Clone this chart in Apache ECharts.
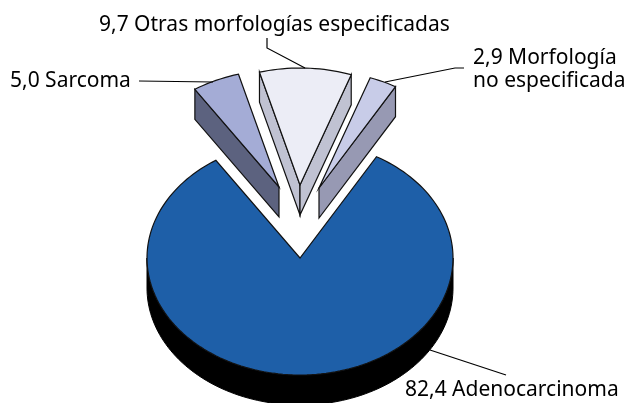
<!DOCTYPE html>
<html>
<head>
<meta charset="utf-8">
<title>Morfologías</title>
<style>
  html, body { margin: 0; padding: 0; background: #fff; }
  #main { width: 626px; height: 403px; }
</style>
<script src="https://cdn.jsdelivr.net/npm/echarts@6/dist/echarts.min.js"></script>
</head>
<body>
<div id="main"></div>
<script>
  // data
  var names = ['Adenocarcinoma', 'Sarcoma', 'Otras morfologías especificadas', 'Morfología no especificada'];
  var values = [82.4, 5.0, 9.7, 2.9];
  var valueLabels = ['82,4', '5,0', '9,7', '2,9'];

  // look of each slice
  var topColors = ['#1e5fa8', '#a4acd6', '#ecedf6', '#c8cce8'];
  var sideColors = ['#000000', '#5c627f', '#c0c2d2', '#9799b3'];
  var explodeX = [0, -21, 0, 19];
  var explodeY = [0, -71, -73, -70];
  var startCut = [false, true, true, false];
  var endCut = [false, false, true, true];

  var cx = 300, cy = 258, rx = 153, ry = 117, depth = 30;

  var rows = [];
  var running = 0;
  values.forEach(function (v) {
    rows.push([1, running, running + v]);
    running += v;
  });

  function renderSlice(params, api) {
    var i = params.dataIndex;
    var from = api.value(1), to = api.value(2);
    var dx = explodeX[i], dy = explodeY[i];

    // polar gives a circle, flatten it to the tilted ellipse
    function pt(r, val, down) {
      var p = api.coord([r, val]);
      return [p[0] + dx, cy + (p[1] - cy) * ry / rx + dy + (down || 0)];
    }
    function arc(a, b) {
      var out = [], n = Math.max(2, Math.ceil(Math.abs(b - a) * 2));
      for (var k = 0; k <= n; k++) out.push(pt(1, a + (b - a) * k / n));
      return out;
    }
    function side(val) {
      return {
        type: 'polygon',
        shape: { points: [pt(1, val), pt(0, val), pt(0, val, depth), pt(1, val, depth)] },
        style: { fill: sideColors[i], stroke: '#111', lineWidth: 1.2 }
      };
    }

    var kids = [];
    if (i === 0) {
      // front wall of the big slice, right edge of the ellipse round to the left edge
      var rightEnd = 100 * 60 / 360;
      var leftEnd = rightEnd + 50;
      var front = arc(rightEnd, leftEnd);
      var wall = front.concat(front.slice().reverse().map(function (p) {
        return [p[0], p[1] + depth];
      }));
      kids.push({ type: 'polygon', shape: { points: wall }, style: { fill: '#000', stroke: '#000', lineWidth: 1 } });
    }
    if (startCut[i]) kids.push(side(from));
    if (endCut[i]) kids.push(side(to));
    kids.push({
      type: 'polygon',
      shape: { points: arc(from, to).concat([pt(0, from)]) },
      style: { fill: topColors[i], stroke: '#111', lineWidth: 1.2 }
    });
    return { type: 'group', children: kids };
  }

  var labelFont = '21px "Noto Sans", sans-serif';
  function label(text, x, y) {
    return { type: 'text', x: x, y: y, silent: true, z: 5,
      style: { text: text, font: labelFont, fill: '#000', textVerticalAlign: 'middle' } };
  }
  function leader(points) {
    return { type: 'polyline', silent: true, z: 4,
      shape: { points: points }, style: { fill: null, stroke: '#000', lineWidth: 1.2 } };
  }

  var chart = echarts.init(document.getElementById('main'), null, { renderer: 'canvas' });
  chart.setOption({
    animation: false,
    backgroundColor: '#fff',
    polar: { center: [cx, cy], radius: rx },
    angleAxis: { type: 'value', min: 0, max: 100, startAngle: 60, clockwise: true, show: false },
    radiusAxis: { type: 'value', min: 0, max: 1, show: false },
    series: [{
      type: 'custom',
      coordinateSystem: 'polar',
      clip: false,
      silent: true,
      encode: { radius: 0, angle: 1 },
      renderItem: renderSlice,
      data: rows
    }],
    graphic: [
      leader([[139, 81], [213, 82]]),
      leader([[267, 38], [267, 48], [305, 68]]),
      leader([[464, 68], [455, 68], [385, 82]]),
      leader([[430, 350], [506, 375]]),
      label(valueLabels[2] + ' ' + names[2], 99, 25),
      label(valueLabels[1] + ' ' + names[1], 10, 81),
      label(valueLabels[3] + ' Morfología', 473, 58),
      label('no especificada', 473, 81),
      label(valueLabels[0] + ' ' + names[0], 405, 390)
    ]
  });
</script>
</body>
</html>
